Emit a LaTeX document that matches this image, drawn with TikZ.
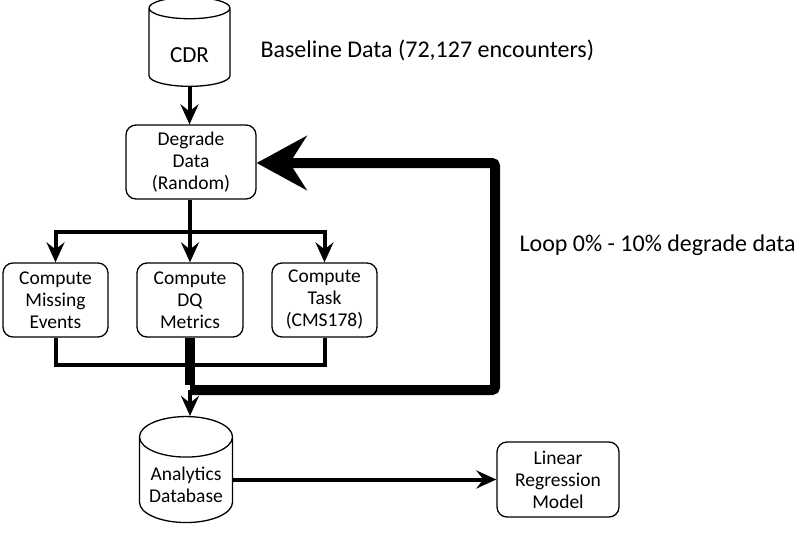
\documentclass[tikz,border=0pt]{standalone}
\usepackage{fontspec}
\setmainfont{Carlito}
\usetikzlibrary{shapes.geometric,arrows.meta}
\begin{document}
\begin{tikzpicture}[x=1pt,y=-1pt,
  box/.style={draw, line width=1.3pt, rounded corners=10pt, align=center,
    font=\fontsize{19.5}{22}\selectfont, inner sep=0pt},
  db/.style={draw, line width=1.3pt, cylinder, shape border rotate=90, aspect=0.55,
    inner sep=0pt},
  conn/.style={line width=4pt},
  arr/.style={conn, -{Stealth[length=20pt,width=18pt,inset=7pt]}},
  loopline/.style={line width=10pt, rounded corners=3pt},
  bigarr/.style={loopline, -{Stealth[length=50pt,width=54pt,inset=17pt]}},
  note/.style={anchor=west, font=\fontsize{24}{28}\selectfont}
]
\useasboundingbox (0,0) rectangle (800,536);

\node[db, minimum width=81pt, minimum height=89pt, font=\fontsize{23}{26}\selectfont] (cdr) at (189.5,47.5) {\raisebox{-15pt}[0pt][0pt]{CDR}};
\node[note] (base) at (257,50) {Baseline Data (72,127 encounters)};

\node[box, minimum width=130pt, minimum height=74pt] (deg) at (191,162) {Degrade\\Data\\(Random)};

\node[box, minimum width=105pt, minimum height=74pt] (miss) at (55.5,300) {Compute\\Missing\\Events};
\node[box, minimum width=106pt, minimum height=74pt] (dq) at (190,300) {Compute\\DQ\\Metrics};
\node[box, minimum width=105pt, minimum height=74pt] (task) at (324.5,300) {Compute\\Task\\(CMS178)};

\node[db, minimum width=93pt, minimum height=106pt, font=\fontsize{19.5}{22}\selectfont] (adb) at (186,480) {\raisebox{-12pt}[0pt][0pt]{\begin{tabular}{@{}c@{}}Analytics\\Database\end{tabular}}};
\node[box, minimum width=122pt, minimum height=75pt] (lin) at (558,479.5) {Linear\\Regression\\Model};

\node[note] (loop) at (516,245) {Loop 0\% - 10\% degrade data};

\coordinate (split) at (190,232);
\coordinate (join) at (190,365);
\coordinate (j) at (190,390);
\coordinate (lr) at (495,390);
\coordinate (ur) at (495,163);

% CDR -> Degrade
\draw[arr] (cdr.south) -- (cdr.south |- deg.north);
% Degrade -> split
\draw[conn] (deg.south -| split) -- (split);
\draw[conn, line cap=rect] (split -| miss.north) -- (split -| task.north);
\draw[arr] (split -| miss.north) -- (miss.north);
\draw[arr] (split) -- (split |- dq.north);
\draw[arr] (split -| task.north) -- (task.north);

% collection
\draw[conn, line join=miter] (miss.south) -- (miss.south |- join) -- (task.south |- join) -- (task.south);
\draw[line width=10pt] (dq.south) -- ([yshift=5pt]j);

% loop
\draw[bigarr] (j) -- (lr) -- (ur) -- (ur -| deg.east);

% to analytics
\draw[arr] (j) -- (j |- adb.north);
% analytics -> linear
\draw[arr] (adb.east |- lin.west) -- (lin.west);
\end{tikzpicture}
\end{document}
